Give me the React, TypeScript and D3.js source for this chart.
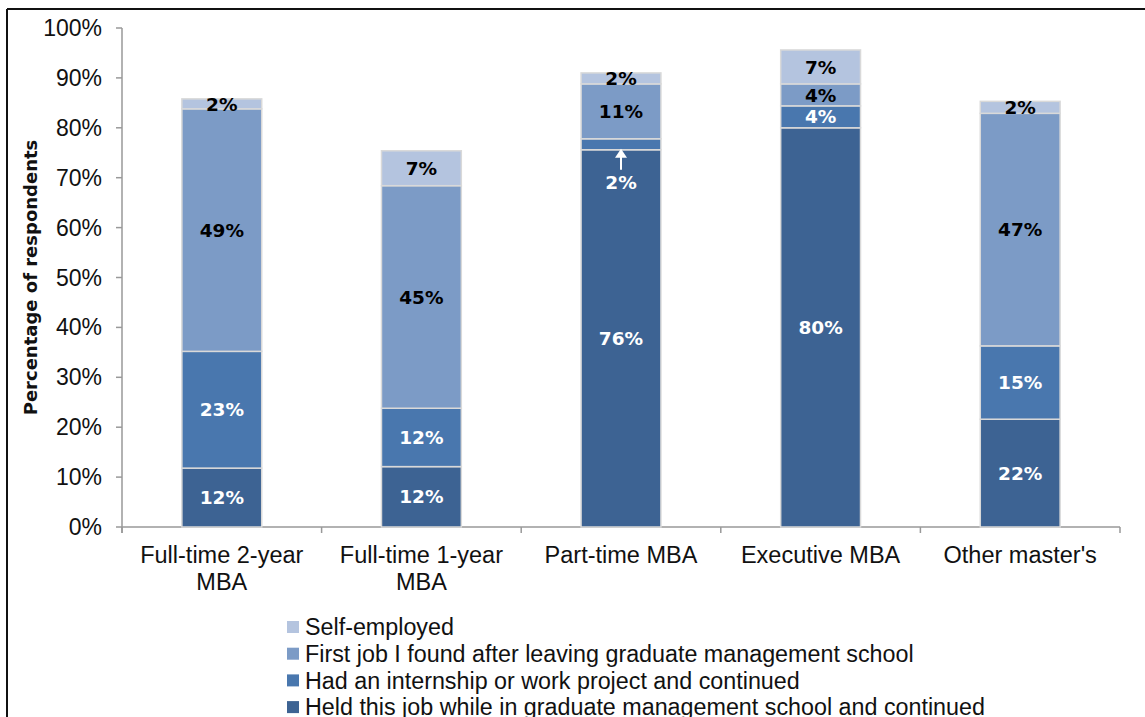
import React, { useEffect, useRef } from "react";
import * as d3 from "d3";

const categories = [
  ["Full-time 2-year", "MBA"],
  ["Full-time 1-year", "MBA"],
  ["Part-time MBA"],
  ["Executive MBA"],
  ["Other master's"],
];

// series values per category, bottom to top
const heldJob = [11.8, 12.1, 75.6, 80.0, 21.6];
const internship = [23.4, 11.7, 2.2, 4.4, 14.7];
const firstJob = [48.6, 44.6, 11.0, 4.4, 46.6];
const selfEmployed = [2.0, 7.0, 2.2, 6.8, 2.4];

const seriesNames = [
  "Held this job while in graduate management school and continued",
  "Had an internship or work project and continued",
  "First job I found after leaving graduate management school",
  "Self-employed",
];
const seriesColors = ["#3d6393", "#4977ae", "#7c9bc6", "#b4c4df"];
const labelColors = ["#fff", "#fff", "#000", "#000"];
const yTicks = [0, 10, 20, 30, 40, 50, 60, 70, 80, 90, 100];

const labelFont = "'DejaVu Sans', sans-serif";
const axisFont = "'Liberation Sans', Arial, sans-serif";

export default function App() {
  const svgRef = useRef<SVGSVGElement>(null);
  const width = 1145;
  const height = 717;

  useEffect(() => {
    const svg = d3.select(svgRef.current);
    svg.selectAll("*").remove();

    const margin = { top: 28, left: 122, right: 25, bottom: 190 };
    const chartW = width - margin.left - margin.right;
    const chartH = height - margin.top - margin.bottom;

    // frame
    svg.append("line").attr("x1", 7).attr("x2", width).attr("y1", 9).attr("y2", 9)
      .attr("stroke", "#111").attr("stroke-width", 2);
    svg.append("line").attr("x1", 7).attr("x2", 7).attr("y1", 9).attr("y2", height)
      .attr("stroke", "#111").attr("stroke-width", 2);

    const g = svg.append("g").attr("transform", `translate(${margin.left},${margin.top})`);

    const x = d3.scaleBand<number>()
      .domain(d3.range(categories.length))
      .range([0, chartW])
      .paddingInner(0.6)
      .paddingOuter(0.3);

    const y = d3.scaleLinear().domain([0, 100]).range([chartH, 0]);

    const rows = categories.map((_, i) => ({
      i,
      held: heldJob[i],
      intern: internship[i],
      first: firstJob[i],
      self: selfEmployed[i],
    }));
    const keys = ["held", "intern", "first", "self"];
    const stacked = d3.stack<any>().keys(keys)(rows);

    // y axis
    g.append("line").attr("x1", 0).attr("x2", 0).attr("y1", y(100)).attr("y2", chartH + 6)
      .attr("stroke", "#999").attr("stroke-width", 1.5);
    yTicks.forEach((t) => {
      g.append("line").attr("x1", -6).attr("x2", 0).attr("y1", y(t)).attr("y2", y(t))
        .attr("stroke", "#999").attr("stroke-width", 1.5);
      g.append("text").attr("x", -20).attr("y", y(t)).attr("dy", "0.35em")
        .attr("text-anchor", "end").attr("font-family", axisFont).attr("font-size", 23)
        .attr("fill", "#111").text(`${t}%`);
    });

    // x axis
    g.append("line").attr("x1", 0).attr("x2", chartW).attr("y1", chartH).attr("y2", chartH)
      .attr("stroke", "#999").attr("stroke-width", 1.5);
    const step = chartW / categories.length;
    d3.range(categories.length + 1).forEach((k) => {
      g.append("line").attr("x1", k * step).attr("x2", k * step)
        .attr("y1", chartH).attr("y2", chartH + 6)
        .attr("stroke", "#999").attr("stroke-width", 1.5);
    });

    categories.forEach((lines, i) => {
      const cx = x(i)! + x.bandwidth() / 2;
      lines.forEach((ln, j) => {
        g.append("text").attr("x", cx).attr("y", chartH + 36 + j * 27)
          .attr("text-anchor", "middle").attr("font-family", axisFont).attr("font-size", 23.5)
          .attr("fill", "#111").text(ln);
      });
    });

    // bars
    stacked.forEach((layer, s) => {
      g.append("g").selectAll("rect").data(layer).enter().append("rect")
        .attr("x", (d: any) => x(d.data.i)!)
        .attr("y", (d: any) => y(d[1]))
        .attr("width", x.bandwidth())
        .attr("height", (d: any) => y(d[0]) - y(d[1]))
        .attr("fill", seriesColors[s])
        .attr("stroke", "#d9d9d9")
        .attr("stroke-width", 1.5);
    });

    // labels
    stacked.forEach((layer, s) => {
      layer.forEach((d: any) => {
        const v = d[1] - d[0];
        const cx = x(d.data.i)! + x.bandwidth() / 2;
        let cy = (y(d[0]) + y(d[1])) / 2;
        const small = s === 1 && v < 3;
        if (small) {
          // label sits inside the bar below, with an arrow pointing up
          const base = y(d[0]);
          cy = base + 33;
          g.append("line").attr("x1", cx).attr("x2", cx)
            .attr("y1", base + 20).attr("y2", base + 4)
            .attr("stroke", "#fff").attr("stroke-width", 2);
          g.append("path")
            .attr("d", `M${cx - 6},${base + 8} L${cx},${base - 1} L${cx + 6},${base + 8} Z`)
            .attr("fill", "#fff");
        }
        g.append("text").attr("x", cx).attr("y", cy).attr("dy", "0.36em")
          .attr("text-anchor", "middle").attr("font-family", labelFont)
          .attr("font-weight", "bold").attr("font-size", 18.5)
          .attr("fill", labelColors[s])
          .text(`${Math.round(v)}%`);
      });
    });

    // y title
    svg.append("text")
      .attr("transform", `translate(37,${margin.top + chartH / 2}) rotate(-90)`)
      .attr("text-anchor", "middle").attr("font-family", labelFont)
      .attr("font-weight", "bold").attr("font-size", 18).attr("fill", "#111")
      .text("Percentage of respondents");

    // legend, reversed order (top = self-employed)
    const legend = svg.append("g").attr("transform", "translate(287,627)");
    const order = [3, 2, 1, 0];
    order.forEach((s, k) => {
      legend.append("rect").attr("x", 0).attr("y", k * 26.7 - 6).attr("width", 12).attr("height", 12)
        .attr("fill", seriesColors[s]);
      legend.append("text").attr("x", 18).attr("y", k * 26.7).attr("dy", "0.35em")
        .attr("font-family", axisFont).attr("font-size", 23.3).attr("fill", "#111")
        .text(seriesNames[s]);
    });
  }, []);

  return (
    <svg
      ref={svgRef}
      width={width}
      height={height}
      style={{ position: "absolute", left: 0, top: 0, background: "#fff" }}
    />
  );
}
